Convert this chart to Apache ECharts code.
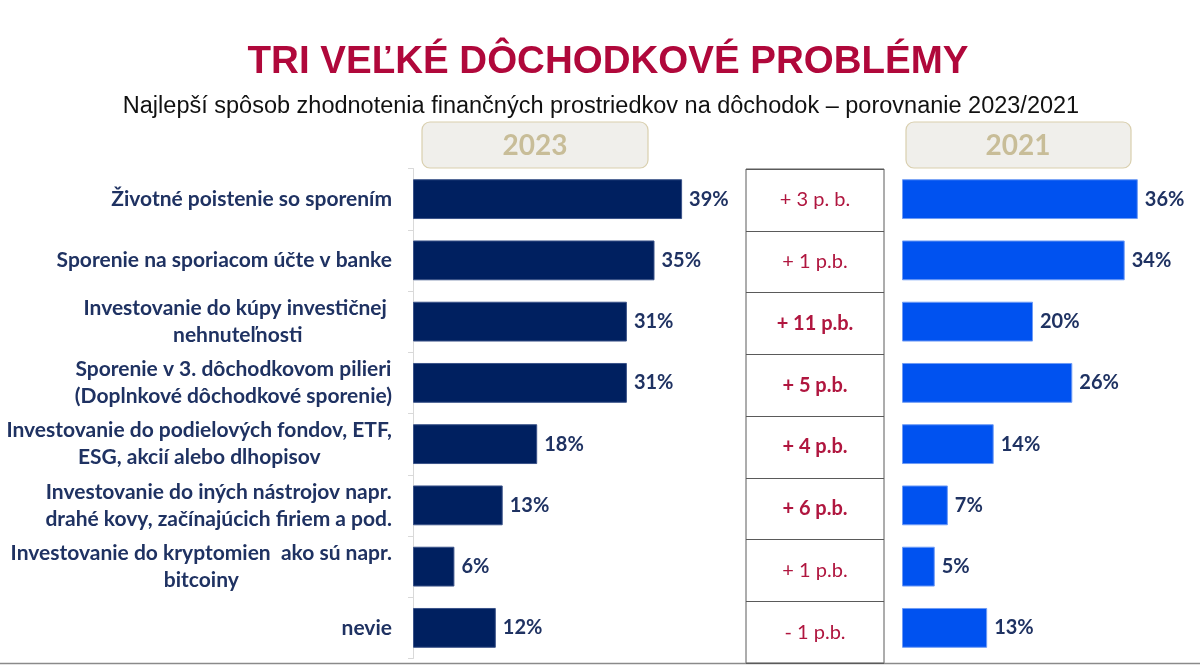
<!DOCTYPE html>
<html>
<head>
<meta charset="utf-8">
<script src="https://cdn.jsdelivr.net/npm/echarts@6/dist/echarts.min.js"></script>
<style>
html,body{margin:0;padding:0;background:#fff;}
#c{width:1200px;height:665px;}
</style>
</head>
<body>
<div id="c"></div>
<script>
const titleText = 'TRI VEĽKÉ DÔCHODKOVÉ PROBLÉMY';
const subtitleText = 'Najlepší spôsob zhodnotenia finančných prostriedkov na dôchodok – porovnanie 2023/2021';
const categories = [
  'Životné poistenie so sporením',
  'Sporenie na sporiacom účte v banke',
  'Investovanie do kúpy investičnej \nnehnuteľnosti',
  'Sporenie v 3. dôchodkovom pilieri\n(Doplnkové dôchodkové sporenie)',
  'Investovanie do podielových fondov, ETF,\nESG, akcií alebo dlhopisov',
  'Investovanie do iných nástrojov napr.\ndrahé kovy, začínajúcich firiem a pod.',
  'Investovanie do kryptomien  ako sú napr.\nbitcoiny',
  'nevie'
];
const values2023 = [39, 35, 31, 31, 18, 13, 6, 12];
const values2021 = [36, 34, 20, 26, 14, 7, 5, 13];
const changeLabels = ['+ 3 p. b.', '+ 1 p.b.', '+ 11 p.b.', '+ 5 p.b.', '+ 4 p.b.', '+ 6 p.b.', '+ 1 p.b.', '- 1 p.b.'];
const changeBold = [false, false, true, true, true, true, false, false];
const yearLabels = ['2023', '2021'];

const navyText = '#1F3262';
const FONT = 'Lato';

const chart = echarts.init(document.getElementById('c'), null, {renderer: 'canvas'});

const gridTop = 168.5, gridH = 490;

const option = {
  backgroundColor: '#ffffff',
  animation: false,
  grid: [
    {left: 413, top: gridTop, width: 345, height: gridH},
    {left: 746, top: 169, width: 138, height: 494, show: true, borderColor: '#5a5a5a', borderWidth: 1},
    {left: 902, top: gridTop, width: 262, height: gridH}
  ],
  xAxis: [
    {gridIndex: 0, type: 'value', min: 0, max: 50, show: false},
    {gridIndex: 1, type: 'value', min: 0, max: 1, show: false},
    {gridIndex: 2, type: 'value', min: 0, max: 40, show: false}
  ],
  yAxis: [
    {
      gridIndex: 0, type: 'category', inverse: true, data: categories,
      axisLine: {show: true, lineStyle: {color: '#d9d9d9', width: 1}},
      axisTick: {show: true, length: 5, lineStyle: {color: '#d9d9d9'}},
      axisLabel: {
        margin: 21, align: 'right',
        formatter: function (v) { return v.split('\n').map(s => '{c|' + s + '}').join('\n'); },
        rich: {c: {align: 'center', fontFamily: FONT, fontWeight: 'bold', fontSize: 21, lineHeight: 27, color: navyText}}
      },
      splitLine: {show: false}
    },
    {
      gridIndex: 1, type: 'category', inverse: true, data: categories,
      axisLine: {show: false}, axisTick: {show: false}, axisLabel: {show: false},
      splitLine: {show: true, lineStyle: {color: '#5a5a5a', width: 1}}
    },
    {
      gridIndex: 2, type: 'category', inverse: true, data: categories,
      show: false
    }
  ],
  series: [
    {
      type: 'bar', xAxisIndex: 0, yAxisIndex: 0, data: values2023,
      barCategoryGap: '35%',
      itemStyle: {color: '#002060', borderColor: '#3a5288', borderWidth: 1},
      label: {show: true, position: 'right', distance: 7, formatter: '{c}%', color: navyText,
        fontFamily: FONT, fontWeight: 'bold', fontSize: 20}
    },
    {
      type: 'bar', xAxisIndex: 1, yAxisIndex: 1,
      data: changeLabels.map((t, i) => ({value: 1, name: t, label: {fontWeight: changeBold[i] ? 'bold' : 'normal'}})),
      barCategoryGap: 0,
      itemStyle: {color: 'rgba(0,0,0,0)'},
      label: {show: true, position: 'inside', formatter: p => changeLabels[p.dataIndex], color: '#B0163F',
        fontFamily: FONT, fontSize: 20}
    },
    {
      type: 'bar', xAxisIndex: 2, yAxisIndex: 2, data: values2021,
      barCategoryGap: '35%',
      itemStyle: {color: '#0052F0', borderColor: '#6e9bf5', borderWidth: 1},
      label: {show: true, position: 'right', distance: 7, formatter: '{c}%', color: navyText,
        fontFamily: FONT, fontWeight: 'bold', fontSize: 20}
    }
  ],
  graphic: [
    {type: 'text', x: 608, y: 62, style: {text: titleText, textAlign: 'center', textVerticalAlign: 'middle',
      fill: '#B0083B', font: 'bold 38.5px "Liberation Sans", Arial, sans-serif'}},
    {type: 'text', x: 601, y: 107, style: {text: subtitleText, textAlign: 'center', textVerticalAlign: 'middle',
      fill: '#111111', font: '23.5px "Liberation Sans", Arial, sans-serif'}},
    {type: 'rect', shape: {x: 422, y: 122, width: 226, height: 46, r: 8},
      style: {fill: '#F0EFEB', stroke: '#D9CFAE', lineWidth: 1.2}},
    {type: 'text', x: 535, y: 146, style: {text: yearLabels[0], textAlign: 'center', textVerticalAlign: 'middle',
      fill: '#C8BD98', font: 'bold 28px Lato, sans-serif'}},
    {type: 'rect', shape: {x: 906, y: 122, width: 225, height: 46, r: 8},
      style: {fill: '#F0EFEB', stroke: '#D9CFAE', lineWidth: 1.2}},
    {type: 'text', x: 1018, y: 146, style: {text: yearLabels[1], textAlign: 'center', textVerticalAlign: 'middle',
      fill: '#C8BD98', font: 'bold 28px Lato, sans-serif'}},
    {type: 'line', shape: {x1: 0, y1: 663.5, x2: 1200, y2: 663.5}, style: {stroke: '#8a8a8a', lineWidth: 1.5}}
  ]
};
chart.setOption(option);
</script>
</body>
</html>
